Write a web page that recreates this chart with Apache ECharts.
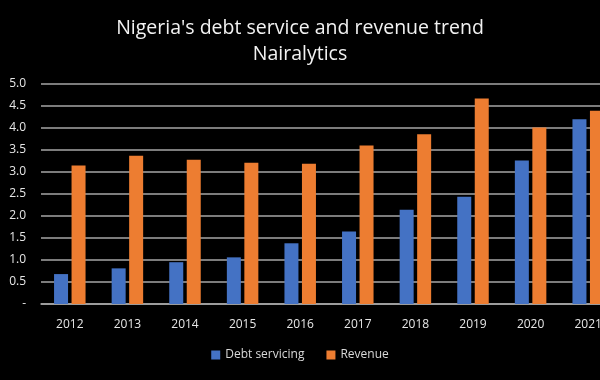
<!DOCTYPE html>
<html><head><meta charset="utf-8">
<script src="https://cdn.jsdelivr.net/npm/echarts@6/dist/echarts.min.js"></script>
<style>html,body{margin:0;padding:0;background:#000}#c{width:600px;height:380px}</style>
</head><body><div id="c"></div>
<script>
var categories = ['2012','2013','2014','2015','2016','2017','2018','2019','2020','2021'];
var debtServicing = [0.68, 0.81, 0.95, 1.06, 1.38, 1.65, 2.14, 2.44, 3.26, 4.20];
var revenue = [3.15, 3.37, 3.28, 3.21, 3.19, 3.60, 3.86, 4.67, 4.01, 4.39];
var yTicks = ['-', '0.5', '1.0', '1.5', '2.0', '2.5', '3.0', '3.5', '4.0', '4.5', '5.0'];

var chart = echarts.init(document.getElementById('c'));
chart.setOption({
  backgroundColor: '#000',
  animation: false,
  textStyle: { fontFamily: 'Open Sans' },
  title: {
    text: "Nigeria's debt service and revenue trend\nNairalytics",
    left: 'center', top: 10,
    textStyle: { color: '#f2f2f2', fontSize: 19.5, fontWeight: 'normal', lineHeight: 26, fontFamily: 'Open Sans' }
  },
  legend: {
    bottom: 14, left: 'center',
    itemWidth: 9, itemHeight: 9, itemGap: 22,
    icon: 'rect',
    textStyle: { color: '#d9d9d9', fontSize: 12 },
    data: ['Debt servicing', 'Revenue']
  },
  grid: { left: 41, top: 84, width: 576, height: 220, containLabel: false, outerBoundsMode: 'none' },
  xAxis: {
    type: 'category', data: categories,
    axisLine: { show: true, lineStyle: { color: '#a6a6a6', width: 1.5 } },
    axisTick: { show: false },
    axisLabel: { color: '#e6e6e6', fontSize: 12, margin: 15 }
  },
  yAxis: {
    type: 'value', min: 0, max: 5, interval: 0.5,
    axisLine: { show: false }, axisTick: { show: false },
    splitLine: { lineStyle: { color: '#a6a6a6', width: 1.5 } },
    axisLabel: {
      color: '#e6e6e6', fontSize: 12, margin: 15,
      formatter: function (v) { return yTicks[Math.round(v / 0.5)]; }
    }
  },
  series: [
    { name: 'Debt servicing', type: 'bar', data: debtServicing, barWidth: 14, barGap: '25%', itemStyle: { color: '#4472C4' } },
    { name: 'Revenue', type: 'bar', data: revenue, barWidth: 14, itemStyle: { color: '#ED7D31' } }
  ]
});
</script></body></html>
